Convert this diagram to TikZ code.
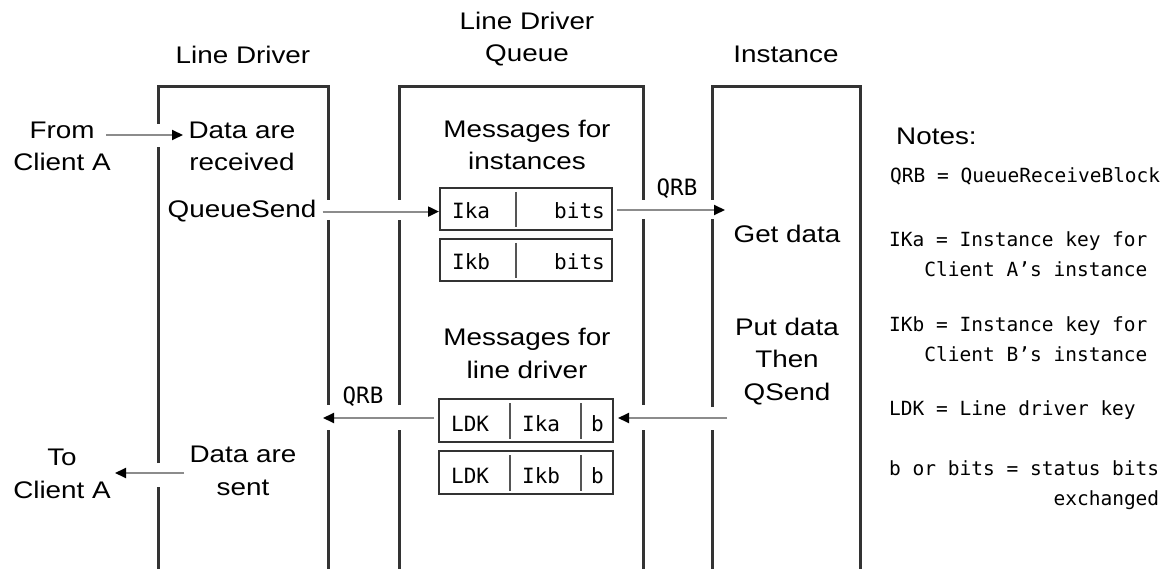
\documentclass[tikz,border=0pt]{standalone}
\usepackage{fontspec}
\setmainfont{Liberation Sans}[FakeStretch=1.16]
\newfontfamily\monofont{DejaVu Sans Mono}
\usetikzlibrary{arrows.meta,calc}
\newcommand\sansbig{\fontsize{24}{32.5}\selectfont}
\newcommand\notefont{\monofont\fontsize{19.5}{30}\selectfont}
\newcommand\boxfont{\monofont\fontsize{21}{25}\selectfont}
\newcommand\qrbfont{\monofont\fontsize{22.5}{25}\selectfont}
\definecolor{colc}{HTML}{333333}
\definecolor{arrc}{HTML}{8C8C8C}
\definecolor{boxc}{HTML}{333333}
\definecolor{divc}{HTML}{555555}
\tikzset{
  col/.style={draw=colc, line width=3pt},
  lbl/.style={font=\sansbig, align=center, inner sep=0pt, anchor=base},
  note/.style={font=\notefont, inner sep=0pt, anchor=base west},
  boxtxt/.style={font=\boxfont, inner sep=0pt},
  qrb/.style={font=\qrbfont, inner sep=0pt, anchor=base},
  arr/.style={draw=arrc, line width=2pt, -{Triangle[length=11pt,width=10pt,color=black]}},
  msgbox/.style={draw=boxc, line width=2pt, minimum width=172pt, minimum height=42pt, inner sep=0pt},
  divider/.style={draw=divc, line width=2.5pt},
}
\begin{document}
\begin{tikzpicture}[x=1pt,y=-1pt]
\useasboundingbox (0,0) rectangle (1173,569);
% columns
\draw[col] (158,569) -- (158,487) (158,463) -- (158,147) (158,124) -- (158,87) -- (328,87) -- (328,200) (328,220) -- (328,405) (328,430) -- (328,569);
\draw[col] (399,569) -- (399,430) (399,405) -- (399,220) (399,200) -- (399,87) -- (643,87) -- (643,200) (643,219) -- (643,405) (643,430) -- (643,569);
\draw[col] (712,569) -- (712,430) (712,407) -- (712,219) (712,200) -- (712,87) -- (860,87) -- (860,569);
% titles (base anchor = baseline of last line)
\node[lbl] (ldtitle) at (243,64) {Line Driver};
\node[lbl] (qtitle) at (527,62) {Line Driver\\Queue};
\node[lbl] (insttitle) at (786,63) {Instance};
% texts
\node[lbl] (from) at (62,171) {From\\Client A};
\node[lbl] (recv) at (242,171) {Data are\\received};
\node[lbl] (qsend) at (242,218) {QueueSend};
\node[lbl] (mfi) at (527,170) {Messages for\\instances};
\node[lbl] (getdata) at (787,243) {Get data};
\node[lbl] (putdata) at (787,400) {Put data\\Then\\QSend};
\node[lbl] (mfl) at (527,378) {Messages for\\line driver};
\node[lbl] (sent) at (243,495) {Data are\\sent};
\node[lbl] (to) at (62,498) {To\\Client A};
% boxes
\node[msgbox] (b1) at (526,209) {};
\node[msgbox] (b2) at (526,260) {};
\node[msgbox, minimum width=174pt, minimum height=43pt] (b3) at (526,420.5) {};
\node[msgbox, minimum width=174pt, minimum height=43pt] (b4) at (526,472.5) {};
\draw[divider] ($(b1.north west)+(77,5)$) -- ($(b1.south west)+(77,-4)$);
\draw[divider] ($(b2.north west)+(77,5)$) -- ($(b2.south west)+(77,-4)$);
\draw[divider] ($(b3.north west)+(72,5)$) -- ($(b3.south west)+(72,-4)$);
\draw[divider] ($(b3.north west)+(143,5)$) -- ($(b3.south west)+(143,-4)$);
\draw[divider] ($(b4.north west)+(72,5)$) -- ($(b4.south west)+(72,-4)$);
\draw[divider] ($(b4.north west)+(143,5)$) -- ($(b4.south west)+(143,-4)$);
\node[boxtxt, anchor=base west] (b1k) at (452,219) {Ika};
\node[boxtxt, anchor=base east] (b1v) at (605,219) {bits};
\node[boxtxt, anchor=base west] (b2k) at (452,270) {Ikb};
\node[boxtxt, anchor=base east] (b2v) at (605,270) {bits};
\node[boxtxt, anchor=base west] (b3a) at (451,431) {LDK};
\node[boxtxt, anchor=base west] (b3k) at (522,431) {Ika};
\node[boxtxt, anchor=base west] (b3b) at (591,431) {b};
\node[boxtxt, anchor=base west] (b4a) at (451,483) {LDK};
\node[boxtxt, anchor=base west] (b4k) at (522,483) {Ikb};
\node[boxtxt, anchor=base west] (b4b) at (591,483) {b};
% QRB labels
\node[qrb] (qrb1) at (677,196) {QRB};
\node[qrb] (qrb2) at (363,403) {QRB};
% arrows
\coordinate (fromstart) at (106,135);
\coordinate (fromend) at (183,135);
\draw[arr] (fromstart) -- (fromend);
\draw[arr, shorten <=6pt] (qsend.east) -- (qsend.east -| b1.west);
\coordinate (instin) at (725,210);
\draw[arr, shorten <=4pt] (instin -| b1.east) -- (instin);
\coordinate (instout) at (727,418);
\draw[arr, shorten >=4pt] (instout) -- (instout -| b3.east);
\coordinate (ldin) at (323,418);
\draw[arr, shorten <=4pt] (ldin -| b3.west) -- (ldin);
\coordinate (tostart) at (184,473);
\coordinate (toend) at (115,473);
\draw[arr] (tostart) -- (toend);
% notes
\node[lbl, anchor=base west] (notes) at (896,145) {Notes:};
\node[note] (n1) at (890,183) {QRB = QueueReceiveBlock};
\node[note, align=left] (n2) at (889,277) {IKa = Instance key for\\\phantom{IKa}Client A’s instance};
\node[note, align=left] (n3) at (889,362) {IKb = Instance key for\\\phantom{IKb}Client B’s instance};
\node[note] (n4) at (889,415) {LDK = Line driver key};
\node[note, align=right] (n5) at (889,505) {b or bits = status bits\\exchanged};
\end{tikzpicture}
\end{document}
